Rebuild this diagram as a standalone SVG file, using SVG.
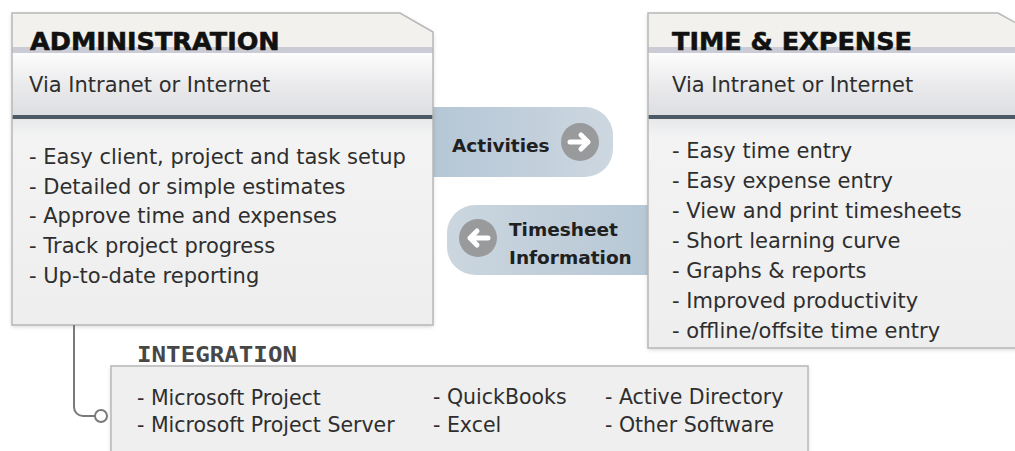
<svg xmlns="http://www.w3.org/2000/svg" width="1015" height="451" viewBox="0 0 1015 451">
<style>
.title{font-family:"DejaVu Sans",Verdana,sans-serif;font-weight:bold;font-size:25.5px;fill:#111;stroke:#111;stroke-width:0.6}
.sub{font-family:"DejaVu Sans",Verdana,sans-serif;font-size:21px;fill:#2e2e2e}
.item{font-family:"DejaVu Sans",Verdana,sans-serif;font-size:21px;fill:#2e2e2e}
.iitem{font-family:"DejaVu Sans",Verdana,sans-serif;font-size:20.5px;fill:#2e2e2e}
.pl{font-family:"DejaVu Sans",Verdana,sans-serif;font-weight:bold;font-size:18.5px;fill:#202020}
.ilabel{font-family:"DejaVu Sans Mono","Liberation Mono",monospace;font-weight:bold;font-size:22px;fill:#474747}
.outline{fill:none;stroke:#b8b8b8;stroke-width:1.5}
.topband{fill:#f2f1ed}
.stripe{fill:#cbccd5}
.dark{fill:#4e5966}
.circ{fill:#999a9c}
.arrow{fill:none;stroke:#fff;stroke-width:5;stroke-linecap:round;stroke-linejoin:round}
</style>
<defs>
<linearGradient id="subg" x1="0" y1="0" x2="0" y2="1">
<stop offset="0" stop-color="#fdfdfd"/>
<stop offset="0.5" stop-color="#ebebed"/>
<stop offset="1" stop-color="#dcdee2"/>
</linearGradient>
<linearGradient id="bodyg" x1="0" y1="0" x2="0" y2="1">
<stop offset="0" stop-color="#e6e8eb"/>
<stop offset="0.08" stop-color="#f3f3f3"/>
<stop offset="1" stop-color="#eeeeee"/>
</linearGradient>
<linearGradient id="pillA" x1="0" y1="0" x2="1" y2="0">
<stop offset="0" stop-color="#b3c5d5"/>
<stop offset="1" stop-color="#cdd7e0"/>
</linearGradient>
<linearGradient id="pillB" x1="0" y1="0" x2="1" y2="0">
<stop offset="0" stop-color="#cbd6df"/>
<stop offset="1" stop-color="#b6c7d5"/>
</linearGradient>
<clipPath id="clipA"><path d="M12,13 H400 L433,32 V325 H12 Z"/></clipPath>
<clipPath id="clipB"><path d="M648,13 H998 L1032,32 V348 H648 Z"/></clipPath>
<filter id="sh" x="-5%" y="-5%" width="110%" height="115%">
<feDropShadow dx="0" dy="1.5" stdDeviation="2" flood-color="#000" flood-opacity="0.18"/>
</filter>
</defs>

<g id="activities">
<path d="M420,107 H585 A28,28 0 0 1 613,135 V149 A28,28 0 0 1 585,177 H420 Z" fill="url(#pillA)"/>
<text class="pl" x="452" y="152">Activities</text>
<circle class="circ" cx="580" cy="142" r="19"/>
<path class="arrow" d="M570,142 H588 M581,135 L588,142 L581,149"/>
</g>

<g id="timesheet">
<path d="M660,205 H475 A28,28 0 0 0 447,233 V247 A28,28 0 0 0 475,275 H660 Z" fill="url(#pillB)"/>
<circle class="circ" cx="478" cy="238" r="19"/>
<path class="arrow" d="M488,238 H470 M477,231 L470,238 L477,245"/>
<text class="pl" x="509" y="236">Timesheet</text>
<text class="pl" x="509" y="264">Information</text>
</g>

<g id="administration">
<path d="M12,13 H400 L433,32 V325 H12 Z" fill="#eee" filter="url(#sh)"/>
<g clip-path="url(#clipA)">
<rect class="topband" x="12" y="13" width="422" height="34"/>
<rect class="stripe" x="12" y="47" width="422" height="6"/>
<rect x="12" y="53" width="422" height="62" fill="url(#subg)"/>
<rect class="dark" x="12" y="115" width="422" height="4"/>
<rect x="12" y="119" width="422" height="206" fill="url(#bodyg)"/>
</g>
<path class="outline" d="M12,13 H400 L433,32 V325 H12 Z"/>
<text class="title" x="30" y="50">ADMINISTRATION</text>
<text class="sub" x="29" y="92">Via Intranet or Internet</text>
<text class="item" x="29" y="164">- Easy client, project and task setup</text>
<text class="item" x="29" y="194">- Detailed or simple estimates</text>
<text class="item" x="29" y="223">- Approve time and expenses</text>
<text class="item" x="29" y="253">- Track project progress</text>
<text class="item" x="29" y="283">- Up-to-date reporting</text>
</g>

<g id="time-expense">
<path d="M648,13 H998 L1032,32 V348 H648 Z" fill="#eee" filter="url(#sh)"/>
<g clip-path="url(#clipB)">
<rect class="topband" x="648" y="13" width="390" height="34"/>
<rect class="stripe" x="648" y="47" width="390" height="6"/>
<rect x="648" y="53" width="390" height="62" fill="url(#subg)"/>
<rect class="dark" x="648" y="115" width="390" height="4"/>
<rect x="648" y="119" width="390" height="229" fill="url(#bodyg)"/>
</g>
<path class="outline" d="M648,13 H998 L1032,32 V348 H648 Z"/>
<text class="title" x="672" y="50">TIME &amp; EXPENSE</text>
<text class="sub" x="672" y="92">Via Intranet or Internet</text>
<text class="item" x="672" y="158">- Easy time entry</text>
<text class="item" x="672" y="188">- Easy expense entry</text>
<text class="item" x="672" y="218">- View and print timesheets</text>
<text class="item" x="672" y="248">- Short learning curve</text>
<text class="item" x="672" y="278">- Graphs &amp; reports</text>
<text class="item" x="672" y="308">- Improved productivity</text>
<text class="item" x="672" y="338">- offline/offsite time entry</text>
</g>

<g id="integration">
<text class="ilabel" x="137" y="362" textLength="160" lengthAdjust="spacingAndGlyphs">INTEGRATION</text>
<rect x="111" y="366" width="697" height="100" fill="#efefef" filter="url(#sh)"/>
<rect class="outline" x="111" y="366" width="697" height="100"/>
<text class="iitem" x="137" y="405">- Microsoft Project</text>
<text class="iitem" x="137" y="432">- Microsoft Project Server</text>
<text class="iitem" x="433" y="404">- QuickBooks</text>
<text class="iitem" x="433" y="432">- Excel</text>
<text class="iitem" x="605" y="404">- Active Directory</text>
<text class="iitem" x="605" y="432">- Other Software</text>
</g>

<g id="connectors">
<path d="M74,325 V407 A9,9 0 0 0 83,416 H95" fill="none" stroke="#7a7a7a" stroke-width="2"/>
<circle cx="101" cy="416" r="6" fill="#fff" stroke="#7a7a7a" stroke-width="2"/>
</g>
</svg>
